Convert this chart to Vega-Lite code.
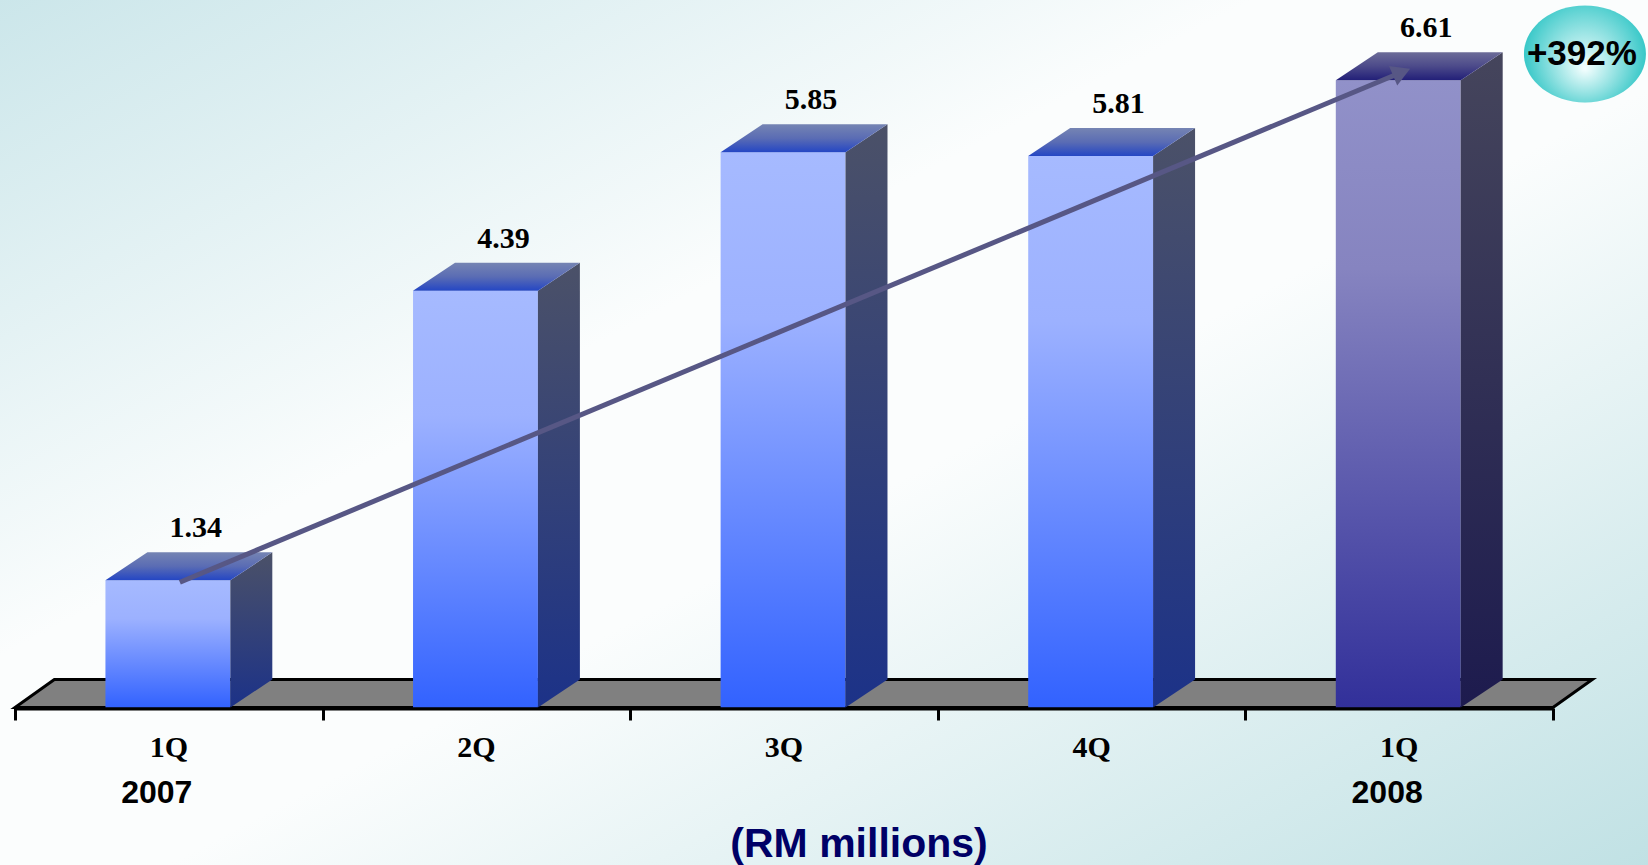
{
  "$schema": "https://vega.github.io/schema/vega-lite/v6.json",
  "width": 1648,
  "height": 865,
  "padding": 0,
  "autosize": {"type": "none"},
  "background": "#ffffff",
  "config": {"view": {"stroke": null}},
  "data": {
    "values": [
      {"quarter": "1Q", "year": "2007", "value": 1.34},
      {"quarter": "2Q", "year": "2007", "value": 4.39},
      {"quarter": "3Q", "year": "2007", "value": 5.85},
      {"quarter": "4Q", "year": "2007", "value": 5.81},
      {"quarter": "1Q", "year": "2008", "value": 6.61}
    ]
  },
  "transform": [
    {"window": [{"op": "row_number", "as": "rn"}]},
    {"calculate": "datum.rn - 1", "as": "idx"}
  ],
  "layer": [
    {
      "transform": [{"filter": "datum.idx === 0"}],
      "mark": {
        "type": "rect",
        "fill": {"gradient": "linear", "x1": 0, "y1": 0, "x2": 1, "y2": 1,
          "stops": [
            {"offset": 0, "color": "#cbe6ea"},
            {"offset": 0.38, "color": "#fbfdfd"},
            {"offset": 0.55, "color": "#fbfdfd"},
            {"offset": 1, "color": "#c0e1e4"}
          ]}
      },
      "encoding": {
        "x": {"datum": -0.06, "type": "quantitative",
          "scale": {"domain": [-0.0488, 5.309], "nice": false, "zero": false},
          "axis": {"values": [0, 1, 2, 3, 4, 5], "labels": false, "domain": false, "grid": false,
            "ticks": true, "tickSize": 12, "tickWidth": 3, "tickColor": "#000000",
            "offset": -157, "title": null, "zindex": 1}},
        "x2": {"datum": 5.33},
        "y": {"datum": -1.68, "type": "quantitative",
          "scale": {"domain": [-1.66, 7.455], "nice": false, "zero": false}, "axis": null},
        "y2": {"datum": 7.47}
      }
    },
    {
      "transform": [
        {"filter": "datum.idx === 0"},
        {"calculate": "[0, 1]", "as": "k"},
        {"flatten": ["k"]},
        {"calculate": "datum.k * 0.295", "as": "fy"},
        {"calculate": "datum.k * 0.128", "as": "fx"},
        {"calculate": "5 + datum.k * 0.128", "as": "fx2"}
      ],
      "mark": {"type": "area", "orient": "horizontal", "fill": "#808080", "stroke": "#000000", "strokeWidth": 3, "strokeJoin": "miter"},
      "encoding": {
        "y": {"field": "fy", "type": "quantitative", "scale": {"domain": [-1.66, 7.455], "nice": false, "zero": false}, "axis": null},
        "x": {"field": "fx", "type": "quantitative", "scale": {"domain": [-0.0488, 5.309], "nice": false, "zero": false}},
        "x2": {"field": "fx2"}
      }
    },
    {
      "transform": [
        {"calculate": "datum.idx + 0.294", "as": "bx"},
        {"calculate": "datum.idx + 0.7", "as": "bx2"}
      ],
      "mark": {"type": "bar", "stroke": null},
      "encoding": {
        "x": {"field": "bx", "type": "quantitative", "scale": {"domain": [-0.0488, 5.309], "nice": false, "zero": false}},
        "x2": {"field": "bx2"},
        "y": {"field": "value", "type": "quantitative", "scale": {"domain": [-1.66, 7.455], "nice": false, "zero": false}, "axis": null},
        "y2": {"datum": 0},
        "fill": {
          "condition": {"test": "datum.idx === 4", "value": {"gradient": "linear", "x1": 0, "y1": 0, "x2": 0, "y2": 1,
            "stops": [{"offset": 0, "color": "#9191c9"}, {"offset": 0.3, "color": "#8684c0"}, {"offset": 1, "color": "#32309a"}]}},
          "value": {"gradient": "linear", "x1": 0, "y1": 0, "x2": 0, "y2": 1,
            "stops": [{"offset": 0, "color": "#a6baff"}, {"offset": 0.3, "color": "#9cb1ff"}, {"offset": 1, "color": "#3262ff"}]}
        }
      }
    },
    {
      "transform": [
        {"calculate": "[0, 1]", "as": "k"},
        {"flatten": ["k"]},
        {"calculate": "datum.idx + 0.7 + datum.k * 0.1365", "as": "sx"},
        {"calculate": "datum.value + datum.k * 0.295", "as": "sy"},
        {"calculate": "datum.k * 0.295", "as": "sy2"}
      ],
      "mark": {"type": "area", "orient": "vertical", "stroke": null},
      "encoding": {
        "x": {"field": "sx", "type": "quantitative", "scale": {"domain": [-0.0488, 5.309], "nice": false, "zero": false}},
        "y": {"field": "sy", "type": "quantitative", "scale": {"domain": [-1.66, 7.455], "nice": false, "zero": false}, "axis": null},
        "y2": {"field": "sy2"},
        "detail": {"field": "idx", "type": "nominal"},
        "fill": {
          "condition": {"test": "datum.idx === 4", "value": {"gradient": "linear", "x1": 0, "y1": 0, "x2": 0, "y2": 1,
            "stops": [{"offset": 0, "color": "#45455c"}, {"offset": 1, "color": "#1d1b4e"}]}},
          "value": {"gradient": "linear", "x1": 0, "y1": 0, "x2": 0, "y2": 1,
            "stops": [{"offset": 0, "color": "#4b5168"}, {"offset": 1, "color": "#1c3288"}]}
        }
      }
    },
    {
      "transform": [
        {"calculate": "[0, 1]", "as": "k"},
        {"flatten": ["k"]},
        {"calculate": "datum.idx + 0.294 + datum.k * 0.1365", "as": "tx"},
        {"calculate": "datum.idx + 0.7 + datum.k * 0.1365", "as": "tx2"},
        {"calculate": "datum.value + datum.k * 0.295", "as": "ty"}
      ],
      "mark": {"type": "area", "orient": "horizontal", "stroke": null},
      "encoding": {
        "y": {"field": "ty", "type": "quantitative", "scale": {"domain": [-1.66, 7.455], "nice": false, "zero": false}, "axis": null},
        "x": {"field": "tx", "type": "quantitative", "scale": {"domain": [-0.0488, 5.309], "nice": false, "zero": false}},
        "x2": {"field": "tx2"},
        "detail": {"field": "idx", "type": "nominal"},
        "fill": {
          "condition": {"test": "datum.idx === 4", "value": {"gradient": "linear", "x1": 0, "y1": 0, "x2": 0, "y2": 1,
            "stops": [{"offset": 0, "color": "#6c6c98"}, {"offset": 0.5, "color": "#4c4a8a"}, {"offset": 1, "color": "#221f78"}]}},
          "value": {"gradient": "linear", "x1": 0, "y1": 0, "x2": 0, "y2": 1,
            "stops": [{"offset": 0, "color": "#7584b3"}, {"offset": 0.5, "color": "#5a6cb4"}, {"offset": 1, "color": "#2446c4"}]}
        }
      }
    },
    {
      "transform": [{"filter": "datum.idx === 0"}],
      "mark": {"type": "rule", "stroke": "#000000", "strokeWidth": 3, "yOffset": 1.5},
      "encoding": {
        "x": {"datum": 0, "type": "quantitative", "scale": {"domain": [-0.0488, 5.309], "nice": false, "zero": false}},
        "x2": {"datum": 5},
        "y": {"datum": 0, "type": "quantitative", "scale": {"domain": [-1.66, 7.455], "nice": false, "zero": false}, "axis": null}
      }
    },
    {
      "transform": [
        {"filter": "datum.idx === 0 || datum.idx === 4"},
        {"calculate": "datum.idx + (datum.idx === 0 ? 0.536 : 0.508)", "as": "ax"},
        {"calculate": "datum.value + (datum.idx === 0 ? -0.02 : 0.084)", "as": "ay"}
      ],
      "mark": {"type": "line", "stroke": "#575785", "strokeWidth": 5, "strokeCap": "butt"},
      "encoding": {
        "x": {"field": "ax", "type": "quantitative", "scale": {"domain": [-0.0488, 5.309], "nice": false, "zero": false}},
        "y": {"field": "ay", "type": "quantitative", "scale": {"domain": [-1.66, 7.455], "nice": false, "zero": false}, "axis": null}
      }
    },
    {
      "transform": [
        {"filter": "datum.idx === 4"},
        {"calculate": "datum.idx + 0.508", "as": "ax"},
        {"calculate": "datum.value + 0.084", "as": "ay"}
      ],
      "mark": {"type": "point", "shape": "triangle-right", "filled": true, "fill": "#575785", "opacity": 1, "size": 450, "angle": -22.65, "stroke": null},
      "encoding": {
        "x": {"field": "ax", "type": "quantitative", "scale": {"domain": [-0.0488, 5.309], "nice": false, "zero": false}},
        "y": {"field": "ay", "type": "quantitative", "scale": {"domain": [-1.66, 7.455], "nice": false, "zero": false}, "axis": null}
      }
    },
    {
      "transform": [{"calculate": "datum.idx + 0.5", "as": "cx"}],
      "mark": {"type": "text", "font": "Liberation Serif", "fontWeight": "bold", "fontSize": 30, "align": "center", "baseline": "alphabetic", "dx": 27, "dy": -43, "fill": "#000000"},
      "encoding": {
        "x": {"field": "cx", "type": "quantitative", "scale": {"domain": [-0.0488, 5.309], "nice": false, "zero": false}},
        "y": {"field": "value", "type": "quantitative", "scale": {"domain": [-1.66, 7.455], "nice": false, "zero": false}, "axis": null},
        "text": {"field": "value", "type": "quantitative", "format": ".2f"}
      }
    },
    {
      "transform": [{"calculate": "datum.idx + 0.5", "as": "cx"}],
      "mark": {"type": "text", "font": "Liberation Serif", "fontWeight": "bold", "fontSize": 30, "align": "center", "baseline": "alphabetic", "dy": 50, "fill": "#000000"},
      "encoding": {
        "x": {"field": "cx", "type": "quantitative", "scale": {"domain": [-0.0488, 5.309], "nice": false, "zero": false}},
        "y": {"datum": 0, "type": "quantitative", "scale": {"domain": [-1.66, 7.455], "nice": false, "zero": false}, "axis": null},
        "text": {"field": "quarter", "type": "nominal"}
      }
    },
    {
      "transform": [
        {"filter": "datum.idx === 0 || datum.idx === 4"},
        {"calculate": "datum.idx + 0.5", "as": "cx"}
      ],
      "mark": {"type": "text", "font": "Liberation Sans", "fontWeight": "bold", "fontSize": 32, "align": "center", "baseline": "alphabetic", "dx": -12, "dy": 96, "fill": "#000000"},
      "encoding": {
        "x": {"field": "cx", "type": "quantitative", "scale": {"domain": [-0.0488, 5.309], "nice": false, "zero": false}},
        "y": {"datum": 0, "type": "quantitative", "scale": {"domain": [-1.66, 7.455], "nice": false, "zero": false}, "axis": null},
        "text": {"field": "year", "type": "nominal"}
      }
    },
    {
      "transform": [{"filter": "datum.idx === 0"}],
      "mark": {"type": "text", "font": "Liberation Sans", "fontWeight": "bold", "fontSize": 41, "align": "center", "baseline": "alphabetic", "dy": 150, "fill": "#000066", "text": "(RM millions)"},
      "encoding": {
        "x": {"datum": 2.744, "type": "quantitative", "scale": {"domain": [-0.0488, 5.309], "nice": false, "zero": false}},
        "y": {"datum": 0, "type": "quantitative", "scale": {"domain": [-1.66, 7.455], "nice": false, "zero": false}, "axis": null}
      }
    },
    {
      "transform": [{"filter": "datum.idx === 0"}],
      "mark": {"type": "point", "shape": "M -1 0 A 1 0.795 0 1 1 1 0 A 1 0.795 0 1 1 -1 0 Z", "size": 14884, "filled": true, "opacity": 1, "stroke": null,
        "fill": {"gradient": "radial", "x1": 0.5, "y1": 0.62, "r1": 0, "x2": 0.5, "y2": 0.5, "r2": 0.55,
          "stops": [{"offset": 0, "color": "#f6ffff"}, {"offset": 0.45, "color": "#9ae4e4"}, {"offset": 1, "color": "#24c2c2"}]}},
      "encoding": {
        "x": {"datum": 5.104, "type": "quantitative", "scale": {"domain": [-0.0488, 5.309], "nice": false, "zero": false}},
        "y": {"datum": 6.887, "type": "quantitative", "scale": {"domain": [-1.66, 7.455], "nice": false, "zero": false}, "axis": null}
      }
    },
    {
      "transform": [{"filter": "datum.idx === 0"}],
      "mark": {"type": "text", "font": "Liberation Sans", "fontWeight": "bold", "fontSize": 35, "align": "center", "baseline": "alphabetic", "fill": "#000000", "text": "+392%"},
      "encoding": {
        "x": {"datum": 5.094, "type": "quantitative", "scale": {"domain": [-0.0488, 5.309], "nice": false, "zero": false}},
        "y": {"datum": 6.77, "type": "quantitative", "scale": {"domain": [-1.66, 7.455], "nice": false, "zero": false}, "axis": null}
      }
    }
  ]
}
